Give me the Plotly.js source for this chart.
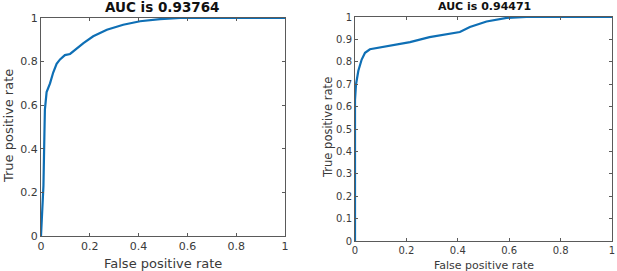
<!DOCTYPE html>
<html><head><meta charset="utf-8">
<script src="https://cdn.plot.ly/plotly-3.0.1.min.js"></script>
<style>html,body{margin:0;padding:0;background:#fff}#chart{width:617px;height:271px}</style>
</head><body><div id="chart"></div>
<script>
// Left ROC curve
const fprA = [0, 0.004, 0.01, 0.014, 0.016, 0.023, 0.037, 0.05, 0.064, 0.078, 0.098, 0.119, 0.14, 0.174, 0.214, 0.27, 0.337, 0.406, 0.488, 0.57, 1];
const tprA = [0, 0.09, 0.23, 0.47, 0.58, 0.66, 0.70, 0.75, 0.79, 0.81, 0.83, 0.835, 0.855, 0.885, 0.916, 0.946, 0.969, 0.985, 0.995, 1.0, 1.0];
// Right ROC curve
const fprB = [0, 0, 0.004, 0.013, 0.026, 0.039, 0.058, 0.149, 0.214, 0.29, 0.408, 0.447, 0.512, 0.59, 0.667, 1];
const tprB = [0, 0.63, 0.70, 0.76, 0.81, 0.84, 0.856, 0.873, 0.888, 0.91, 0.933, 0.955, 0.98, 0.996, 1.0, 1.0];
const titleA = "AUC is 0.93764";
const titleB = "AUC is 0.94471";
const xLabel = "False positive rate";
const yLabel = "True positive rate";
const ticksA = [0, 0.2, 0.4, 0.6, 0.8, 1];
const ticksAy = [0, 0.2, 0.4, 0.6, 0.8, 1];
const ticksB = [0, 0.2, 0.4, 0.6, 0.8, 1];
const ticksBy = [0, 0.1, 0.2, 0.3, 0.4, 0.5, 0.6, 0.7, 0.8, 0.9, 1];

const W = 617, H = 271;
const fx = p => p / W, fy = p => (H - p) / H;
const lineColor = '#0E6FB5';
const axColor = '#5a5a5a';
const txtColor = '#3a3a3a';
const font = 'DejaVu Sans, sans-serif';

function ax(domain, tv, size) {
  return {
    domain: domain, range: [0, 1], tickvals: tv, ticktext: tv.map(v => String(v)),
    showline: true, linecolor: axColor, linewidth: 1, mirror: 'ticks', ticks: 'inside',
    ticklen: 3, tickcolor: axColor, showgrid: false, zeroline: false,
    tickfont: {family: font, size: size, color: txtColor}, fixedrange: true
  };
}

const data = [
  {x: fprA, y: tprA, type: 'scatter', mode: 'lines', line: {color: lineColor, width: 2.2}, xaxis: 'x', yaxis: 'y', hoverinfo: 'skip'},
  {x: fprB, y: tprB, type: 'scatter', mode: 'lines', line: {color: lineColor, width: 2.2}, xaxis: 'x2', yaxis: 'y2', hoverinfo: 'skip'}
];

const layout = {
  width: W, height: H, margin: {l: 0, r: 0, t: 0, b: 0},
  paper_bgcolor: '#fff', plot_bgcolor: '#fff', showlegend: false,
  xaxis: Object.assign(ax([fx(41), fx(285)], ticksA, 11), {anchor: 'y'}),
  yaxis: Object.assign(ax([fy(236), fy(18)], ticksAy, 11), {anchor: 'x'}),
  xaxis2: Object.assign(ax([fx(355), fx(612)], ticksB, 10), {anchor: 'y2'}),
  yaxis2: Object.assign(ax([fy(241), fy(17)], ticksBy, 10), {anchor: 'x2'}),
  annotations: [
    {text: '<b>' + titleA + '</b>', x: fx(162), y: fy(7), xref: 'paper', yref: 'paper', showarrow: false, xanchor: 'center', yanchor: 'middle', font: {family: font, size: 13.5, color: '#111'}},
    {text: '<b>' + titleB + '</b>', x: fx(484), y: fy(7), xref: 'paper', yref: 'paper', showarrow: false, xanchor: 'center', yanchor: 'middle', font: {family: font, size: 11, color: '#111'}},
    {text: xLabel, x: fx(163), y: fy(263), xref: 'paper', yref: 'paper', showarrow: false, xanchor: 'center', yanchor: 'middle', font: {family: font, size: 13, color: txtColor}},
    {text: xLabel, x: fx(484), y: fy(265), xref: 'paper', yref: 'paper', showarrow: false, xanchor: 'center', yanchor: 'middle', font: {family: font, size: 11, color: txtColor}},
    {text: yLabel, x: fx(8), y: fy(126), xref: 'paper', yref: 'paper', showarrow: false, textangle: -90, xanchor: 'center', yanchor: 'middle', font: {family: font, size: 13, color: txtColor}},
    {text: yLabel, x: fx(328), y: fy(128), xref: 'paper', yref: 'paper', showarrow: false, textangle: -90, xanchor: 'center', yanchor: 'middle', font: {family: font, size: 11.5, color: txtColor}}
  ]
};

Plotly.newPlot('chart', data, layout, {staticPlot: true, displayModeBar: false});
</script>
</body></html>
